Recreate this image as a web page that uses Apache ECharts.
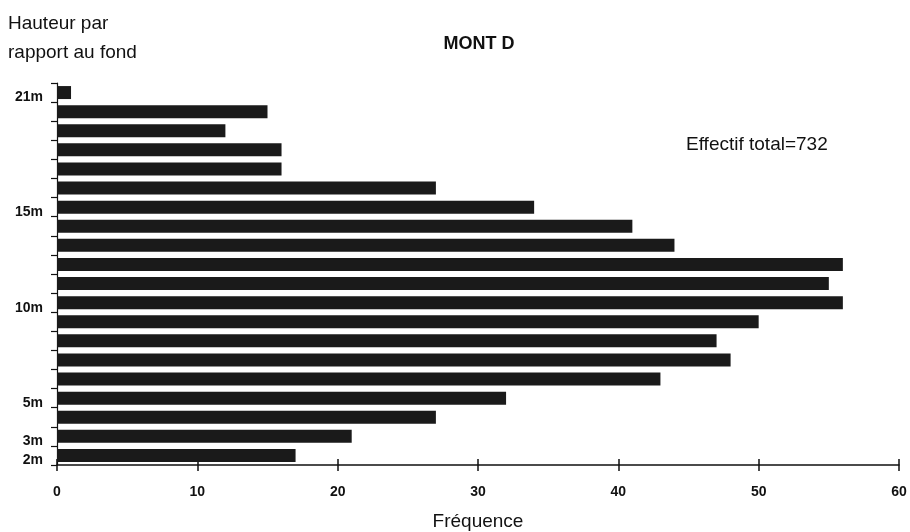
<!DOCTYPE html>
<html>
<head>
<meta charset="utf-8">
<script src="https://cdn.jsdelivr.net/npm/echarts@6/dist/echarts.min.js"></script>
<style>
html,body{margin:0;padding:0;background:#fff;}
#chart{width:910px;height:532px;}
</style>
</head>
<body>
<div id="chart"></div>
<script>
// Heights above the bottom (category axis, bottom to top)
const heights = ['2m','3m','4m','5m','6m','7m','8m','9m','10m','11m','12m','13m','14m','15m','16m','17m','18m','19m','20m','21m'];
// Frequency per height
const frequencies = [17,21,27,32,43,48,47,50,56,55,56,44,41,34,27,16,16,12,15,1];
// Height labels that are printed on the axis
const shownHeightLabels = ['2m','3m','5m','10m','15m','21m'];
// Frequency axis ticks
const freqMin = 0, freqMax = 60, freqStep = 10;

const FONT = '"Liberation Sans", Arial, Helvetica, sans-serif';
const chart = echarts.init(document.getElementById('chart'), null, {renderer:'canvas'});

const xCommon = {
  type:'value', min:freqMin, max:freqMax, interval:freqStep, position:'bottom',
  splitLine:{show:false}
};

chart.setOption({
  animation:false,
  backgroundColor:'#fff',
  grid:{left:57, right:11, top:83, bottom:67, containLabel:false, outerBoundsMode:'none'},
  xAxis:[
    Object.assign({}, xCommon, {
      axisLine:{show:true, lineStyle:{color:'#111', width:1.5}},
      axisTick:{show:true, inside:false, length:6, lineStyle:{color:'#111', width:1.5}},
      axisLabel:{show:true, margin:20, fontFamily:FONT, fontSize:14, color:'#111', fontWeight:'bold'},
      name:'Fréquence', nameLocation:'middle', nameGap:47,
      nameTextStyle:{fontFamily:FONT, fontSize:19, color:'#111'}
    }),
    Object.assign({}, xCommon, {
      axisLine:{show:false},
      axisTick:{show:true, inside:true, length:6, lineStyle:{color:'#111', width:1.5}},
      axisLabel:{show:false}
    })
  ],
  yAxis:{
    type:'category', data:heights, boundaryGap:true,
    axisLine:{show:true, lineStyle:{color:'#111', width:1.2}},
    axisTick:{show:true, inside:false, length:6, interval:0, lineStyle:{color:'#111', width:1.2}},
    axisLabel:{
      show:true, margin:14, fontFamily:FONT, fontSize:14, fontWeight:'bold', color:'#111',
      verticalAlign:'top', lineHeight:10,
      interval:function(i, v){ return shownHeightLabels.indexOf(v) >= 0; }
    },
    splitLine:{show:false}
  },
  series:[{
    type:'bar', xAxisIndex:0, data:frequencies,
    barCategoryGap:'32%',
    itemStyle:{color:'#1a1a1a'}
  }],
  graphic:[
    {type:'text', x:8, y:24, style:{text:'Hauteur par', font:'19px ' + FONT, fill:'#111', verticalAlign:'middle'}},
    {type:'text', x:8, y:53, style:{text:'rapport au fond', font:'19px ' + FONT, fill:'#111', verticalAlign:'middle'}},
    {type:'text', x:479, y:44, style:{text:'MONT D', font:'bold 18px ' + FONT, fill:'#111', align:'center', verticalAlign:'middle'}},
    {type:'text', x:686, y:145, style:{text:'Effectif total=732', font:'19px ' + FONT, fill:'#111', verticalAlign:'middle'}}
  ]
});
</script>
</body>
</html>
